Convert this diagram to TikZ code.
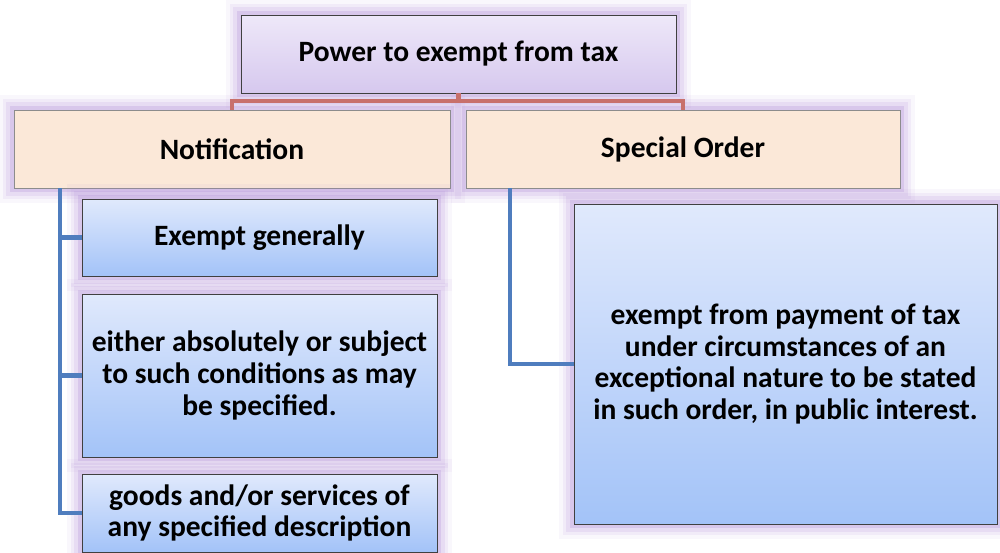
\documentclass[tikz,border=0pt]{standalone}
\usepackage{fontspec}
\setmainfont{Carlito}
\usetikzlibrary{calc}
\definecolor{figP}{RGB}{172,136,212}
\definecolor{figPt}{RGB}{238,232,249}
\definecolor{figPb}{RGB}{214,200,238}
\definecolor{figO}{RGB}{251,232,216}
\definecolor{figBt}{RGB}{224,233,252}
\definecolor{figBb}{RGB}{163,195,248}
\definecolor{figR}{RGB}{200,112,108}
\definecolor{figL}{RGB}{79,125,190}
\tikzset{
  glow/.style={preaction={draw=figP, line width=17pt, opacity=0.07},
    preaction={draw=figP, line width=13pt, opacity=0.1},
    preaction={draw=figP, line width=9pt, opacity=0.15},
    preaction={draw=figP, line width=5pt, opacity=0.25}},
  box/.style={glow, draw=black!75, line width=0.5pt, inner sep=2pt, align=center,
    font=\fontsize{16.8}{18}\selectfont\bfseries},
  headbox/.style={box, top color=figPt, bottom color=figPb},
  catbox/.style={box, fill=figO, draw=black!45},
  itembox/.style={box, top color=figBt, bottom color=figBb},
  redlink/.style={draw=figR, line width=2.3pt},
  bluelink/.style={draw=figL, line width=2.3pt}
}

\begin{document}
\begin{tikzpicture}[x=0.02cm, y=-0.02cm]
\useasboundingbox (0,0) rectangle (1000,553);
% root
\node[headbox, minimum width=8.7cm, minimum height=1.56cm] (top) at (458.5,54) {Power to exempt from tax};
% two ways
\node[catbox, minimum width=8.72cm, minimum height=1.56cm] (notif) at (232,149) {Notification};
\node[catbox, minimum width=8.68cm, minimum height=1.56cm] (special) at (683,149) {Special Order};
% notification items
\node[itembox, minimum width=7.1cm, minimum height=1.54cm] (gen) at (259.5,237.5) {Exempt generally};
\node[itembox, minimum width=7.1cm, minimum height=3.26cm] (cond) at (259.5,375.5)
  {either absolutely or subject\\ to such conditions as may\\ be specified.};
\node[itembox, minimum width=7.1cm, minimum height=1.56cm] (goods) at (259.5,513)
  {goods and/or services of\\ any specified description};
% special order item
\node[itembox, minimum width=8.46cm, minimum height=6.4cm] (order) at (785.5,364)
  {exempt from payment of tax\\ under circumstances of an\\ exceptional nature to be stated\\ in such order, in public interest.};
% red bracket
\coordinate (rj) at ($(top.south)+(0,8)$);
\draw[redlink] (top.south) -- (rj);
\draw[redlink] (notif.north) |- (rj) -| (special.north);
% blue stems
\coordinate (ls) at ($(notif.south west)+(46,0)$);
\draw[bluelink] (ls) |- (goods.west);
\draw[bluelink] (ls) |- (gen.west);
\draw[bluelink] (ls) |- (cond.west);
\coordinate (rs) at ($(special.south west)+(44,0)$);
\draw[bluelink] (rs) |- (order.west);
\end{tikzpicture}
\end{document}
